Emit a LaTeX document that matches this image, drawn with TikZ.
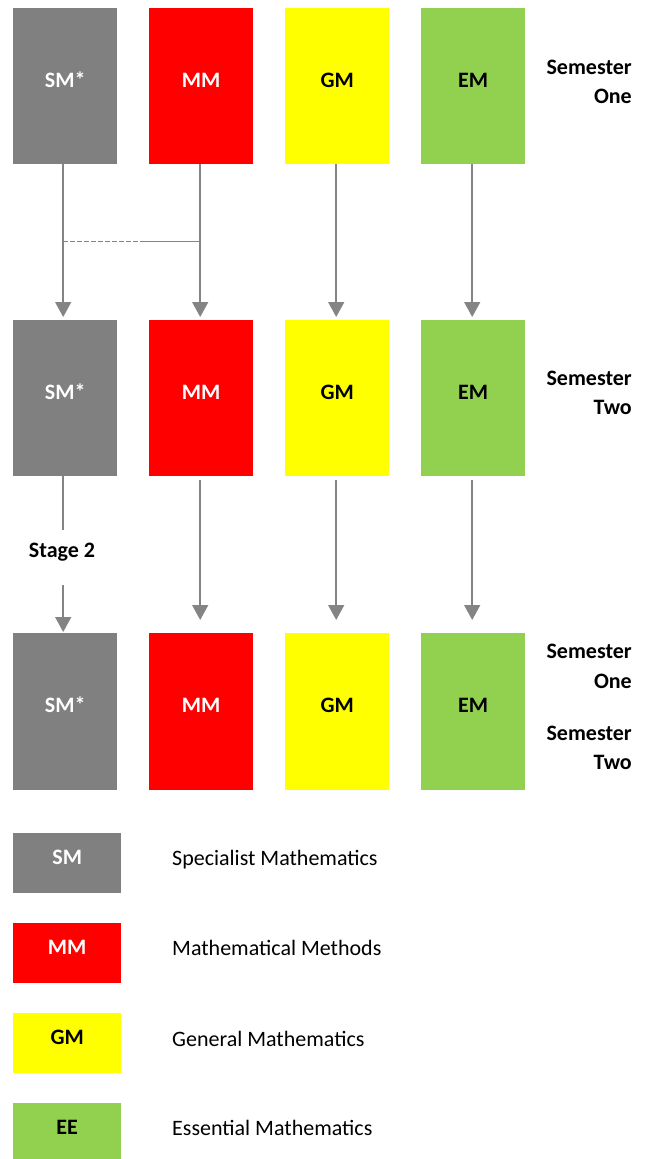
\documentclass[tikz,border=0pt]{standalone}
\usepackage{fontspec}
\setmainfont{Carlito}
\usetikzlibrary{arrows.meta}
\definecolor{smgray}{HTML}{808080}
\definecolor{mmred}{HTML}{FF0000}
\definecolor{gmyellow}{HTML}{FFFF00}
\definecolor{emgreen}{HTML}{92D050}
\definecolor{linegray}{HTML}{848484}
\begin{document}
\begin{tikzpicture}[x=1pt,y=-1pt,
  every node/.style={font=\fontsize{22}{28}\selectfont},
  box/.style={minimum width=104pt,minimum height=156pt,inner sep=0pt,anchor=north west,
    text height=14pt,text depth=12pt,font=\fontsize{22}{28}\selectfont\bfseries},
  lbox/.style={box,minimum width=108pt,minimum height=60pt},
  smc/.style={fill=smgray,text=white},
  mmc/.style={fill=mmred,text=white},
  gmc/.style={fill=gmyellow,text=black},
  emc/.style={fill=emgreen,text=black},
  semlab/.style={anchor=base east,inner sep=0pt,font=\fontsize{22}{28}\selectfont\bfseries},
  legtext/.style={anchor=base west,inner sep=0pt},
  flow/.style={draw=linegray,line width=1.5pt},
  flowarrow/.style={flow,-{Triangle[width=16pt,length=15pt]},fill=linegray}
]
\useasboundingbox (0,0) rectangle (650,1159);
% row 1
\node[box,smc] (sm1) at (13,8) {SM*};
\node[box,mmc] (mm1) at (149,8) {MM};
\node[box,gmc] (gm1) at (285,8) {GM};
\node[box,emc] (em1) at (421,8) {EM};
% row 2
\node[box,smc] (sm2) at (13,320) {SM*};
\node[box,mmc] (mm2) at (149,320) {MM};
\node[box,gmc] (gm2) at (285,320) {GM};
\node[box,emc] (em2) at (421,320) {EM};
% row 3
\node[box,smc,minimum height=157pt] (sm3) at (13,633) {SM*};
\node[box,mmc,minimum height=157pt] (mm3) at (149,633) {MM};
\node[box,gmc,minimum height=157pt] (gm3) at (285,633) {GM};
\node[box,emc,minimum height=157pt] (em3) at (421,633) {EM};
% semester labels
\node[semlab] (s1a) at (632,74) {Semester};
\node[semlab] (s1b) at (632,103) {One};
\node[semlab] (s2a) at (632,385) {Semester};
\node[semlab] (s2b) at (632,414) {Two};
\node[semlab] (s3a) at (632,658) {Semester};
\node[semlab] (s3b) at (632,688) {One};
\node[semlab] (s3c) at (632,740) {Semester};
\node[semlab] (s3d) at (632,769) {Two};
% row1 -> row2
\draw[flowarrow,shorten >=3pt] ([xshift=-2pt]sm1.south) -- ([xshift=-2pt]sm2.north);
\draw[flowarrow,shorten >=3pt] ([xshift=-1pt]mm1.south) -- ([xshift=-1pt]mm2.north);
\draw[flowarrow,shorten >=3pt] ([xshift=-1pt]gm1.south) -- ([xshift=-1pt]gm2.north);
\draw[flowarrow,shorten >=3pt] ([xshift=-1pt]em1.south) -- ([xshift=-1pt]em2.north);
% junction between SM and MM
\coordinate (j1) at ([xshift=-2pt,yshift=-77pt]sm1.south);
\coordinate (j2) at ([xshift=-1pt,yshift=-77pt]mm1.south);
\coordinate (jm) at ([xshift=-57pt]j2);
\draw[flow,dash pattern=on 4.5pt off 2.5pt] (j1) -- (jm);
\draw[flow] (jm) -- (j2);
% row2 -> row3
\draw[flowarrow,shorten <=4pt,shorten >=13pt] ([xshift=-1pt]mm2.south) -- ([xshift=-1pt]mm3.north);
\draw[flowarrow,shorten <=4pt,shorten >=13pt] ([xshift=-1pt]gm2.south) -- ([xshift=-1pt]gm3.north);
\draw[flowarrow,shorten <=4pt,shorten >=13pt] ([xshift=-1pt]em2.south) -- ([xshift=-1pt]em3.north);
% stage 2
\node[anchor=base,inner sep=0pt,font=\fontsize{22}{28}\selectfont\bfseries] (stage) at (62,557) {Stage 2};
\coordinate (st1) at ([xshift=-2pt,yshift=-54pt]sm2.south);
\coordinate (st2) at ([xshift=-2pt,yshift=48pt]sm3.north);
\draw[flow] ([xshift=-2pt]sm2.south) -- (st1);
\draw[flowarrow,shorten >=1pt] (st2) -- ([xshift=-2pt]sm3.north);
% legend
\node[lbox,smc] (lsm) at (13,833) {SM};
\node[lbox,mmc] (lmm) at (13,923) {MM};
\node[lbox,gmc] (lgm) at (13,1013) {GM};
\node[lbox,emc] (lee) at (13,1103) {EE};
\node[legtext] (tsm) at (172,865) {Specialist Mathematics};
\node[legtext] (tmm) at (172,955) {Mathematical Methods};
\node[legtext] (tgm) at (172,1046) {General Mathematics};
\node[legtext] (tee) at (172,1135) {Essential Mathematics};
\end{tikzpicture}
\end{document}
